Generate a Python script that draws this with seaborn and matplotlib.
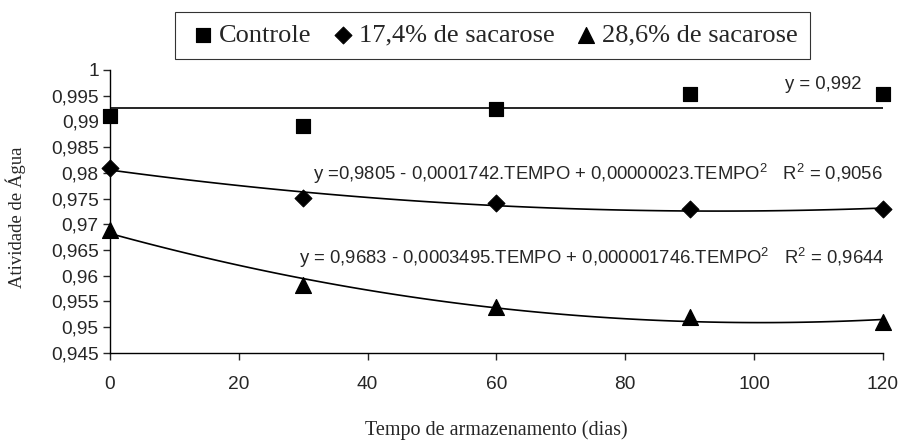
import numpy as np
import pandas as pd
import matplotlib
matplotlib.use("Agg")
import matplotlib.pyplot as plt
from matplotlib.ticker import FuncFormatter, MultipleLocator
import seaborn as sns

# data
tempo = [0, 30, 60, 90, 120]
controle = [0.9911, 0.9891, 0.9924, 0.9953, 0.9953]
sac_174 = [0.9810, 0.9752, 0.9742, 0.9729, 0.9729]
sac_286 = [0.9688, 0.9582, 0.9540, 0.9520, 0.9510]
series_names = ["Controle", "17,4% de sacarose", "28,6% de sacarose"]
eq_controle = "y = 0,992"
eq_174 = "y =0,9805 - 0,0001742.TEMPO + 0,00000023.TEMPO$^{2}$   R$^{2}$ = 0,9056"
eq_286 = "y = 0,9683 - 0,0003495.TEMPO + 0,000001746.TEMPO$^{2}$   R$^{2}$ = 0,9644"

df = pd.DataFrame({
    "tempo": tempo * 3,
    "aw": controle + sac_174 + sac_286,
    "trat": [series_names[0]] * 5 + [series_names[1]] * 5 + [series_names[2]] * 5,
})

sns.set_style("white")
plt.rcParams["font.family"] = ["Liberation Sans", "DejaVu Sans"]
plt.rcParams["mathtext.fontset"] = "custom"
plt.rcParams["mathtext.rm"] = "Liberation Sans"

fig = plt.figure(figsize=(9, 4.4), dpi=100)
ax = fig.add_axes([0.122, 0.198, 0.859, 0.643])

# trend lines
ax.hlines(np.mean(controle), min(tempo), max(tempo), color="black", lw=1.2)
for vals in (sac_174, sac_286):
    sns.regplot(x=tempo, y=vals, order=2, ci=None, scatter=False, ax=ax,
                line_kws={"color": "black", "lw": 1.2})

markers = {series_names[0]: "s", series_names[1]: "D", series_names[2]: "^"}
sizes = {series_names[0]: 110, series_names[1]: 75, series_names[2]: 130}
for name in series_names:
    sub = df[df["trat"] == name]
    sns.scatterplot(data=sub, x="tempo", y="aw", marker=markers[name],
                    s=sizes[name], color="black", edgecolor="black",
                    ax=ax, clip_on=False, zorder=5, label=name)

ax.set_xlim(0, 120)
ax.set_ylim(0.945, 1.0)
ax.xaxis.set_major_locator(MultipleLocator(20))
ax.yaxis.set_major_locator(MultipleLocator(0.005))
ax.yaxis.set_major_formatter(FuncFormatter(
    lambda v, p: ("%.3f" % v).rstrip("0").rstrip(".").replace(".", ",")))
sns.despine(ax=ax)
for s in ("left", "bottom"):
    ax.spines[s].set_color("black")
    ax.spines[s].set_linewidth(1.0)
ax.tick_params(axis="y", direction="out", length=5, width=1, pad=3,
               labelsize=13.8, left=True)
ax.tick_params(axis="x", direction="out", length=5, width=1, pad=12,
               labelsize=13.8, bottom=True)

ax.set_xlabel("")
ax.set_ylabel("")
fig.text(0.551, 0.023, "Tempo de armazenamento (dias)", ha="center",
         va="center", fontsize=14.5, family=["Liberation Serif"])
fig.text(0.017, 0.507, "Atividade de Água", ha="center", va="center",
         rotation=90, fontsize=13.5, family=["Liberation Serif"])

ax.text(116.7, 0.99727, eq_controle, ha="right", va="center", fontsize=13.3)
ax.text(120, 0.97972, eq_174, ha="right", va="center", fontsize=13.3)
ax.text(120.3, 0.96353, eq_286, ha="right", va="center", fontsize=13.3)

handles, labels = ax.get_legend_handles_labels()
if ax.legend_:
    ax.legend_.remove()
leg = fig.legend(handles, labels, loc="center", bbox_to_anchor=(0.547, 0.92),
                 ncol=3, frameon=True, fancybox=False, edgecolor="black",
                 handletextpad=0.0, columnspacing=0.6, borderpad=0.45,
                 handlelength=1.2, prop={"family": "Liberation Serif", "size": 19})
leg.get_frame().set_linewidth(0.8)

fig.savefig("out.png", dpi=100)
